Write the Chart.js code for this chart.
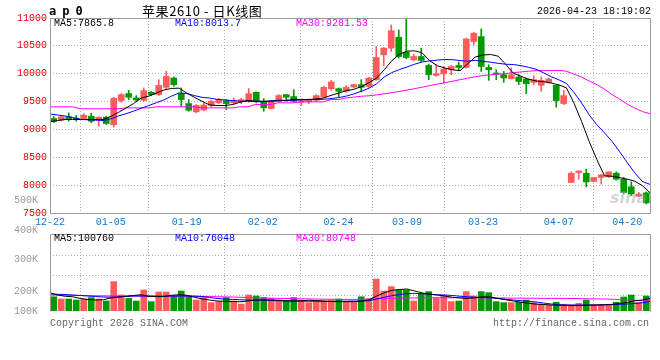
<!DOCTYPE html>
<html>
<head>
<meta charset="utf-8">
<script src="https://cdn.jsdelivr.net/npm/chart.js@4/dist/chart.umd.min.js"></script>
<style>
  body { margin: 0; background: #fff; }
  #wrap { position: relative; width: 660px; height: 360px; overflow: hidden;
          font-family: "Liberation Mono", "DejaVu Sans Mono", monospace; font-size: 10px; }
  #wrap canvas { position: absolute; left: 0; top: 0; }
  .t { position: absolute; white-space: pre; line-height: 10px; }
</style>
</head>
<body>
<div id="wrap">
  <canvas id="kline" width="660" height="360"></canvas>
  <canvas id="vol" width="660" height="360"></canvas>
  <div class="t" style="left:49px;top:5px;font:bold 12px 'DejaVu Sans Mono',monospace;line-height:12px;letter-spacing:-0.6px;">a p 0</div>
  <div class="t" id="title" style="left:142px;top:4px;font:13px 'Noto Sans CJK SC',sans-serif;line-height:14px;letter-spacing:0.6px;"></div>
  <div class="t" id="stamp" style="left:537px;top:7px;"></div>
  <div class="t" id="pm5" style="left:54px;top:19px;color:#000;"></div>
  <div class="t" id="pm10" style="left:175px;top:19px;color:#0000ff;"></div>
  <div class="t" id="pm30" style="left:296px;top:19px;color:#ff00ff;"></div>
  <div class="t" id="vm5" style="left:54px;top:234px;color:#000;"></div>
  <div class="t" id="vm10" style="left:175px;top:234px;color:#0000ff;"></div>
  <div class="t" id="vm30" style="left:296px;top:234px;color:#ff00ff;"></div>
  <div class="t" style="left:50px;top:319px;color:#666;">Copyright 2026 SINA.COM</div>
  <div class="t" style="left:493px;top:319px;color:#666;">http://finance.sina.com.cn</div>
  <div class="t" style="left:610px;top:190px;font:italic bold 16px 'DejaVu Sans',sans-serif;line-height:16px;color:rgba(160,160,160,0.45);">sina</div>
</div>
<script>
// 苹果2610 日K线，2025-12-22 .. 2026-04-23
const title = '苹果2610 - 日K线图';
const stamp = '2026-04-23 18:19:02';

const dates = ['12-22','12-23','12-24','12-25','12-26','12-29','12-30','12-31',
  '01-05','01-06','01-07','01-08','01-09','01-12','01-13','01-14','01-15','01-16',
  '01-19','01-20','01-21','01-22','01-23','01-26','01-27','01-28','01-29','01-30',
  '02-02','02-03','02-04','02-05','02-06','02-09','02-10','02-11','02-12','02-13',
  '02-24','02-25','02-26','02-27',
  '03-02','03-03','03-04','03-05','03-06','03-09','03-10','03-11','03-12','03-13',
  '03-16','03-17','03-18','03-19','03-20','03-23','03-24','03-25','03-26','03-27',
  '03-30','03-31','04-01','04-02','04-03','04-07','04-08','04-09','04-10',
  '04-13','04-14','04-15','04-16','04-17','04-20','04-21','04-22','04-23'];
const axisDates = ['12-22','01-05','01-19','02-02','02-24','03-09','03-23','04-07','04-20'];

const opens = [9196,9166,9227,9202,9196,9238,9191,9220,9084,9518,
  9643,9566,9523,9666,9625,9755,9923,9643,9464,9316,
  9348,9429,9477,9518,9477,9495,9506,9666,9506,9375,
  9506,9625,9589,9488,9495,9523,9584,9732,9732,9684,
  9762,9804,9773,9893,10339,10459,10655,10387,10250,10309,
  10148,9970,9995,10071,10148,10112,10577,10666,10112,10012,
  9982,9911,9941,9905,9845,9791,9845,9791,9464,8048,
  8226,8214,8066,8138,8148,8214,8107,7970,7800,7861];
const highs = [9232,9241,9298,9250,9280,9291,9227,9238,9577,9643,
  9702,9607,9745,9684,9893,10041,9941,9745,9536,9446,
  9477,9523,9559,9536,9566,9559,9732,9673,9554,9518,
  9625,9625,9714,9548,9548,9625,9773,9880,9745,9786,
  9813,9893,9934,10488,10470,10875,10786,10990,10352,10459,
  10173,10161,10130,10148,10209,10637,10745,10804,10161,10071,
  10041,10102,9982,9923,9964,9941,9923,9791,9702,8238,
  8255,8286,8138,8196,8238,8238,8138,8059,7870,7879];
const lows = [9125,9152,9148,9148,9179,9120,9059,9089,9041,9488,
  9536,9505,9505,9607,9607,9732,9773,9416,9327,9298,
  9334,9405,9464,9357,9446,9464,9488,9477,9327,9370,
  9488,9505,9488,9429,9464,9505,9566,9702,9584,9666,
  9745,9673,9755,9880,10148,10398,10280,10268,10232,10220,
  9893,9952,9834,9982,10054,10102,10518,10041,9880,9893,
  9845,9905,9804,9643,9804,9684,9834,9398,9446,8048,
  8107,7970,8059,8018,8138,8089,7852,7812,7790,7664];
const closes = [9143,9227,9179,9179,9255,9148,9220,9107,9559,9625,
  9577,9530,9696,9625,9791,9952,9804,9536,9345,9429,
  9438,9505,9536,9464,9523,9536,9643,9506,9388,9506,
  9607,9577,9506,9518,9536,9607,9755,9852,9684,9755,
  9804,9755,9923,10291,10459,10773,10309,10291,10309,10238,
  9982,10000,10084,10130,10112,10625,10726,10130,10071,9995,
  9923,9982,9862,9821,9893,9880,9905,9518,9607,8214,
  8255,8059,8138,8184,8238,8107,7870,7843,7840,7682];

const ma5 = [9137,9161,9179,9179,9179,9179,9179,9179,9232,9304,
  9384,9464,9563,9598,9652,9709,9736,9741,9652,9577,
  9505,9441,9429,9429,9446,9487,9518,9509,9506,9506,
  9513,9518,9536,9536,9536,9548,9563,9611,9652,9696,
  9720,9768,9839,9920,10070,10232,10348,10405,10411,10375,
  10232,10143,10102,10071,10054,10179,10300,10335,10345,10315,
  10170,10009,9955,9902,9870,9857,9832,9800,9745,9470,
  9140,8780,8460,8168,8160,8135,8107,8070,7990,7865.8];
const ma10 = [9277,9259,9241,9214,9179,9173,9166,9161,9188,9241,
  9282,9327,9379,9429,9479,9530,9598,9655,9645,9607,
  9577,9563,9539,9530,9518,9506,9506,9500,9495,9513,
  9523,9523,9523,9530,9536,9536,9541,9554,9571,9598,
  9637,9685,9740,9820,9940,10020,10075,10120,10170,10210,
  10230,10245,10255,10252,10235,10225,10240,10222,10207,10187,
  10170,10165,10145,10115,10080,10015,9946,9890,9825,9661,
  9475,9260,9085,8940,8785,8600,8405,8220,8065,8013.7];
const ma30 = [9406,9406,9406,9406,9371,9371,9371,9371,9371,9371,
  9387,9387,9387,9387,9406,9406,9406,9406,9406,9406,
  9387,9387,9387,9387,9387,9406,9406,9446,9446,9446,
  9477,9477,9477,9495,9495,9495,9495,9536,9536,9566,
  9580,9595,9604,9620,9638,9661,9682,9705,9732,9759,
  9786,9813,9839,9866,9893,9920,9946,9968,9979,9991,
  10004,10018,10032,10045,10054,10059,10059,10059,10045,9991,
  9938,9870,9804,9723,9625,9545,9455,9384,9321,9281.53];

const volumes = [114000,96000,96000,88000,96000,107000,96000,80000,235000,128000,
  101000,80000,168000,75000,152000,152000,120000,160000,120000,88000,
  107000,67000,75000,107000,80000,56000,128000,120000,107000,101000,
  88000,80000,107000,88000,67000,75000,80000,88000,96000,70000,
  70000,114000,96000,256000,160000,195000,168000,168000,80000,141000,
  155000,101000,120000,75000,80000,155000,120000,155000,147000,75000,
  67000,67000,70000,88000,67000,56000,48000,70000,54000,48000,
  62000,88000,48000,48000,54000,70000,112000,128000,70000,120000];
const volMa5 = [146000,128000,118000,114000,100000,92000,88000,90000,104000,112000,
  118000,124000,130000,118000,115000,116000,126000,130000,126000,110000,
  98000,88000,80000,78000,76000,74000,80000,88000,88000,88000,
  86000,82000,80000,82000,86000,84000,80000,76000,75000,75000,
  75000,78000,90000,120000,145000,165000,172000,176000,160000,145000,
  135000,128000,120000,110000,104000,101000,106000,114000,112000,100000,
  90000,80000,70000,62000,55000,52000,48000,46000,45000,43000,
  44000,47000,48000,50000,53000,60000,68000,82000,88000,100760];
const volMa10 = [136000,134000,132000,128000,124000,120000,116000,112000,110000,112000,
  116000,120000,120000,119000,118000,118000,119000,120000,120000,119000,
  116000,108000,100000,96000,93000,90000,88000,87000,86000,84000,
  82000,80000,80000,79000,78000,78000,77000,76000,78000,79000,
  80000,80000,82000,96000,110000,122000,132000,138000,141000,138000,
  134000,130000,128000,124000,118000,114000,110000,108000,106000,100000,
  94000,88000,82000,78000,72000,64000,56000,50000,48000,48000,
  48000,48000,48000,49000,51000,53000,56000,60000,66000,76048];
const volMa30 = [128000,127000,126000,125000,124000,123000,122000,121000,120000,120000,
  120000,120000,119000,119000,119000,119000,119000,119000,119000,118000,
  117000,116000,114000,113000,112000,110000,108000,106000,104000,103000,
  101000,100000,99000,98000,97000,96000,95000,94000,93000,93000,
  93000,94000,95000,97000,99000,101000,103000,104000,105000,106000,
  106000,106000,106000,106000,106000,106000,106000,105000,105000,104000,
  104000,103000,103000,102000,102000,101000,101000,101000,100000,100000,
  99000,98000,97000,96000,94000,92000,89000,86000,83000,80748];

const priceTicks = [7500, 8000, 8500, 9000, 9500, 10000, 10500, 11000];
// the source prints its volume labels at these (misaligned) heights
const volTickLabels = ['100K', '200K', '300K', '400K', '500K'];
const volTickValues = [0, 160000, 416000, 648000, 888000];
const volGridValues = [128000, 288000, 448000];

const UP = '#ff5b5b', DOWN = '#009a00', GRID = '#b0b0b0', FRAME = '#9a9a9a';
const candleColors = closes.map((c, i) => c >= opens[i] ? UP : DOWN);

document.getElementById('title').textContent = title;
document.getElementById('stamp').textContent = stamp;
document.getElementById('pm5').textContent = 'MA5:' + ma5[ma5.length - 1];
document.getElementById('pm10').textContent = 'MA10:' + ma10[ma10.length - 1];
document.getElementById('pm30').textContent = 'MA30:' + ma30[ma30.length - 1];
document.getElementById('vm5').textContent = 'MA5:' + volMa5[volMa5.length - 1];
document.getElementById('vm10').textContent = 'MA10:' + volMa10[volMa10.length - 1];
document.getElementById('vm30').textContent = 'MA30:' + volMa30[volMa30.length - 1];

Chart.defaults.font.family = "'Liberation Mono', 'DejaVu Sans Mono', monospace";
Chart.defaults.font.size = 10;

// gray frame round the plot area
const framePlugin = {
    id: 'frame',
    afterDraw(chart, args, opts) {
        const { ctx, chartArea: a } = chart;
        const l = Math.round(a.left) + 0.5, r = Math.round(a.right) + 0.5;
        const t = Math.round(a.top) + 0.5, b = Math.round(a.bottom) + 0.5;
        ctx.save();
        ctx.strokeStyle = FRAME;
        ctx.lineWidth = 1;
        ctx.beginPath();
        if (opts.open) {
            ctx.moveTo(l, b); ctx.lineTo(l, t); ctx.lineTo(r, t); ctx.lineTo(r, b);
        } else {
            ctx.rect(l, t, r - l, b - t);
        }
        ctx.stroke();
        ctx.restore();
    }
};

const pts = arr => arr.map((v, i) => ({ x: i, y: v }));
const maLine = (label, arr, color) => ({
    type: 'line', label, data: pts(arr), xAxisID: 'xd', borderColor: color,
    borderWidth: 1, pointRadius: 0, tension: 0, order: 0
});

// bars sit on an 80-slot axis, the date grid and MA lines on a 0..79 axis
const slotAxis = { type: 'linear', display: false, min: -0.5, max: dates.length - 0.5, offset: false };
const dateAxis = (showLabels) => ({
    type: 'linear', position: 'bottom', min: 0, max: dates.length - 1, offset: false,
    afterBuildTicks: s => { s.ticks = axisDates.map(d => ({ value: dates.indexOf(d) })); },
    afterFit: s => { s.height = showLabels ? 20 : 0; },
    ticks: { display: showLabels, autoSkip: false, maxRotation: 0, color: '#1177cc', padding: 3,
             callback: v => dates[v] },
    grid: { color: GRID, drawTicks: false },
    border: { display: false, dash: [1, 2] }
});

new Chart(document.getElementById('kline'), {
    type: 'bar',
    data: {
        datasets: [
            maLine('MA5', ma5, '#000000'),
            maLine('MA10', ma10, '#0000ff'),
            maLine('MA30', ma30, '#ff00ff'),
            { label: 'body', data: opens.map((o, i) => ({ x: i, y: [o, closes[i]] })),
              backgroundColor: candleColors, barThickness: 6, minBarLength: 1, grouped: false, order: 1 },
            { label: 'wick', data: lows.map((l, i) => ({ x: i, y: [l, highs[i]] })),
              backgroundColor: candleColors, barThickness: 1, grouped: false, order: 2 }
        ]
    },
    options: {
        responsive: false,
        animation: false,
        devicePixelRatio: 1,
        layout: { padding: { top: 18, left: 0, right: 10, bottom: 127 } },
        plugins: { legend: { display: false }, tooltip: { enabled: false }, frame: {} },
        scales: {
            x: slotAxis,
            xd: dateAxis(true),
            y: {
                min: 7500, max: 11000,
                afterBuildTicks: s => { s.ticks = priceTicks.map(v => ({ value: v })); },
                afterFit: s => { s.width = 50; },
                ticks: { color: '#e00000', padding: 3, autoSkip: false, callback: v => String(v) },
                grid: { drawTicks: false,
                        color: c => (c.tick && (c.tick.value === 7500 || c.tick.value === 11000)) ? 'rgba(0,0,0,0)' : GRID },
                border: { display: false, dash: [1, 2] }
            }
        }
    },
    plugins: [framePlugin]
});

new Chart(document.getElementById('vol'), {
    type: 'bar',
    data: {
        datasets: [
            maLine('MA5', volMa5, '#000000'),
            maLine('MA10', volMa10, '#0000ff'),
            maLine('MA30', volMa30, '#ff00ff'),
            { label: 'vol', data: volumes.map((v, i) => ({ x: i, y: v })),
              backgroundColor: candleColors, barThickness: 6, grouped: false, order: 1 }
        ]
    },
    options: {
        responsive: false,
        animation: false,
        devicePixelRatio: 1,
        layout: { padding: { top: 234, left: 0, right: 10, bottom: 49 } },
        plugins: { legend: { display: false }, tooltip: { enabled: false }, frame: { open: true } },
        scales: {
            x: slotAxis,
            xd: dateAxis(false),
            y: {
                min: 0, max: 616000,
                afterBuildTicks: s => { s.ticks = volTickValues.map(v => ({ value: v })); },
                afterFit: s => { s.width = 50; },
                ticks: { color: '#999999', padding: 4, autoSkip: false, callback: (v, i) => volTickLabels[i] },
                grid: { display: false },
                border: { display: false }
            },
            yg: {
                position: 'right', min: 0, max: 616000,
                afterBuildTicks: s => { s.ticks = volGridValues.map(v => ({ value: v })); },
                afterFit: s => { s.width = 0; },
                ticks: { display: false },
                grid: { color: GRID, drawTicks: false },
                border: { display: false, dash: [1, 2] }
            }
        }
    },
    plugins: [framePlugin]
});
</script>
</body>
</html>
